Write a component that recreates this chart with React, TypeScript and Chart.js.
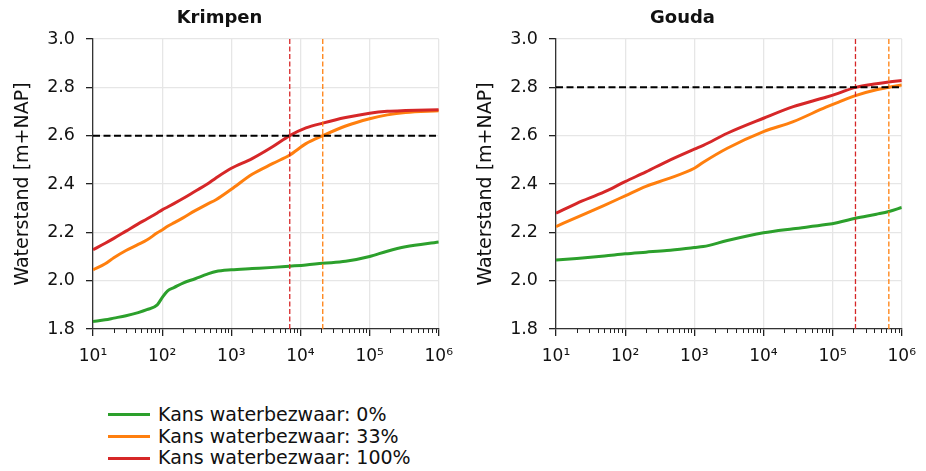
import React, { useEffect, useRef } from "react";
import { Chart, registerables } from "chart.js";

Chart.register(...registerables);

// ---- data -------------------------------------------------------------
// Return period (years) on the x axis, water level [m+NAP] on the y axis.
const KRIMPEN_T = [10, 15, 20, 30, 45, 60, 85, 100, 120, 150, 200, 300, 450, 600, 1000, 2000, 4000, 7000, 12000, 21000, 45000, 100000, 180000, 330000, 1000000];
const KRIMPEN_0 = [1.831, 1.838, 1.845, 1.855, 1.868, 1.88, 1.9, 1.93, 1.958, 1.972, 1.99, 2.008, 2.027, 2.038, 2.045, 2.05, 2.055, 2.06, 2.065, 2.072, 2.08, 2.1, 2.122, 2.14, 2.16];
const KRIMPEN_33 = [2.045, 2.07, 2.095, 2.125, 2.15, 2.168, 2.198, 2.21, 2.225, 2.24, 2.26, 2.29, 2.317, 2.335, 2.378, 2.44, 2.485, 2.52, 2.567, 2.6, 2.64, 2.67, 2.686, 2.696, 2.703];
const KRIMPEN_100 = [2.128, 2.155, 2.175, 2.205, 2.235, 2.255, 2.28, 2.293, 2.305, 2.32, 2.34, 2.37, 2.4, 2.425, 2.465, 2.505, 2.555, 2.6, 2.632, 2.652, 2.675, 2.693, 2.701, 2.704, 2.707];

const GOUDA_T = [10, 20, 50, 100, 200, 400, 1000, 1350, 3000, 10000, 27000, 80000, 120000, 214000, 430000, 650000, 1000000];
const GOUDA_0 = [2.086, 2.092, 2.102, 2.111, 2.118, 2.125, 2.137, 2.141, 2.166, 2.198, 2.215, 2.232, 2.241, 2.258, 2.275, 2.286, 2.303];
const GOUDA_33 = [2.224, 2.262, 2.312, 2.351, 2.39, 2.42, 2.465, 2.49, 2.548, 2.617, 2.658, 2.718, 2.738, 2.766, 2.79, 2.8, 2.81];
const GOUDA_100 = [2.279, 2.32, 2.367, 2.41, 2.45, 2.493, 2.544, 2.56, 2.61, 2.672, 2.72, 2.759, 2.775, 2.8, 2.815, 2.822, 2.828];

// Design level and the return periods where the 100% / 33% curves reach it.
const KRIMPEN_LEVEL = 2.6;
const KRIMPEN_CROSS = [7000, 21000];
const GOUDA_LEVEL = 2.8;
const GOUDA_CROSS = [214000, 650000];

const SERIES_LABELS = ["Kans waterbezwaar: 0%", "Kans waterbezwaar: 33%", "Kans waterbezwaar: 100%"];
const SERIES_COLORS = ["#2ca02c", "#ff7f0e", "#d62728"];

const X_DECADES = [1, 2, 3, 4, 5, 6];
const Y_MIN = 1.8;
const Y_MAX = 3.0;
const Y_STEP = 0.2;

const FONT = "'DejaVu Sans', Verdana, sans-serif";
const SUP = ["⁰", "¹", "²", "³", "⁴", "⁵", "⁶", "⁷", "⁸", "⁹"];

const isDecade = (v: number) => Math.abs(Math.log10(v) - Math.round(Math.log10(v))) < 1e-9;

// all log ticks: 1..9 x 10^n inside the axis range
const logTicks = () => {
  const out: number[] = [];
  const lo = X_DECADES[0];
  const hi = X_DECADES[X_DECADES.length - 1];
  for (let e = lo; e <= hi; e++) {
    for (let m = 1; m <= 9; m++) {
      if (e === hi && m > 1) break;
      out.push(m * Math.pow(10, e));
    }
  }
  return out;
};

// short tick marks for the minor log ticks
const minorTicksPlugin = {
  id: "minorTicks",
  afterDatasetsDraw(chart: any) {
    const xs = chart.scales.x;
    const { ctx, chartArea } = chart;
    ctx.save();
    ctx.strokeStyle = "#222";
    ctx.lineWidth = 1;
    for (const v of logTicks()) {
      if (isDecade(v)) continue;
      const px = Math.round(xs.getPixelForValue(v)) + 0.5;
      ctx.beginPath();
      ctx.moveTo(px, chartArea.bottom);
      ctx.lineTo(px, chartArea.bottom + 4);
      ctx.stroke();
    }
    ctx.restore();
  },
};

function makeConfig(title: string, t: number[], s0: number[], s33: number[], s100: number[], level: number, cross: number[]) {
  const xMin = Math.pow(10, X_DECADES[0]);
  const xMax = Math.pow(10, X_DECADES[X_DECADES.length - 1]);
  const pts = (ys: number[]) => t.map((x, i) => ({ x, y: ys[i] }));
  const series = [s0, s33, s100].map((ys, i) => ({
    label: SERIES_LABELS[i],
    data: pts(ys),
    borderColor: SERIES_COLORS[i],
    backgroundColor: SERIES_COLORS[i],
    borderWidth: 3,
    pointRadius: 0,
    cubicInterpolationMode: "monotone" as const,
    order: 3 - i,
  }));
  const guides = [
    {
      label: "level",
      data: [{ x: xMin, y: level }, { x: xMax, y: level }],
      borderColor: "#000",
      borderWidth: 2,
      borderDash: [7, 3.5],
      pointRadius: 0,
      order: 0,
    },
    {
      label: "cross100",
      data: [{ x: cross[0], y: Y_MIN }, { x: cross[0], y: Y_MAX }],
      borderColor: SERIES_COLORS[2],
      borderWidth: 1.3,
      borderDash: [5, 2.5],
      pointRadius: 0,
      order: 0,
    },
    {
      label: "cross33",
      data: [{ x: cross[1], y: Y_MIN }, { x: cross[1], y: Y_MAX }],
      borderColor: SERIES_COLORS[1],
      borderWidth: 1.3,
      borderDash: [5, 2.5],
      pointRadius: 0,
      order: 0,
    },
  ];
  return {
    type: "line" as const,
    data: { datasets: [...series, ...guides] },
    plugins: [minorTicksPlugin],
    options: {
      responsive: false,
      animation: false as const,
      events: [],
      layout: { padding: { left: 0, right: 24, top: 0, bottom: 0 } },
      plugins: {
        legend: { display: false },
        tooltip: { enabled: false },
        title: {
          display: true,
          text: title,
          color: "#111",
          font: { family: FONT, size: 18, weight: "bold" as const },
          padding: { top: 8, bottom: 9.4 },
        },
      },
      scales: {
        x: {
          type: "logarithmic" as const,
          min: xMin,
          max: xMax,
          afterBuildTicks: (scale: any) => {
            scale.ticks = logTicks().map((v) => ({ value: v, major: isDecade(v) }));
          },
          afterFit: (scale: any) => {
            scale.height = 71;
          },
          border: { display: true, color: "#333", width: 1.3 },
          grid: {
            color: (ctx: any) => (ctx.tick && isDecade(ctx.tick.value) ? "#e6e6e6" : "rgba(0,0,0,0)"),
            lineWidth: 1.3,
            tickColor: (ctx: any) => (ctx.tick && isDecade(ctx.tick.value) ? "#222" : "rgba(0,0,0,0)"),
            tickLength: 7,
            drawTicks: true,
          },
          ticks: {
            autoSkip: false,
            maxRotation: 0,
            minRotation: 0,
            padding: 10,
            color: "#111",
            font: { family: FONT, size: 17 },
            callback: (v: any) => {
              const n = Number(v);
              if (!isDecade(n)) return "";
              return "10" + SUP[Math.round(Math.log10(n))];
            },
          },
        },
        y: {
          min: Y_MIN,
          max: Y_MAX,
          afterFit: (scale: any) => {
            scale.width = 93;
          },
          border: { display: true, color: "#333", width: 1.3 },
          grid: {
            color: "#e6e6e6",
            lineWidth: 1.3,
            tickColor: "#222",
            tickLength: 7,
          },
          ticks: {
            stepSize: Y_STEP,
            padding: 11,
            color: "#111",
            font: { family: FONT, size: 17.5 },
            callback: (v: any) => Number(v).toFixed(1),
          },
          title: {
            display: true,
            text: "Waterstand [m+NAP]",
            color: "#111",
            font: { family: FONT, size: 19 },
            padding: { top: 12, bottom: 0 },
          },
        },
      },
    },
  };
}

function Panel(props: { left: number; config: any }) {
  const ref = useRef<HTMLCanvasElement | null>(null);
  useEffect(() => {
    if (!ref.current) return;
    const chart = new Chart(ref.current, props.config);
    return () => chart.destroy();
  }, []);
  return (
    <canvas
      ref={ref}
      width={463}
      height={400}
      style={{ position: "absolute", left: props.left, top: 0, width: 463, height: 400 }}
    />
  );
}

export default function App() {
  const krimpen = makeConfig("Krimpen", KRIMPEN_T, KRIMPEN_0, KRIMPEN_33, KRIMPEN_100, KRIMPEN_LEVEL, KRIMPEN_CROSS);
  const gouda = makeConfig("Gouda", GOUDA_T, GOUDA_0, GOUDA_33, GOUDA_100, GOUDA_LEVEL, GOUDA_CROSS);
  return (
    <div style={{ position: "fixed", left: 0, top: 0, width: 926, height: 471, background: "#fff", overflow: "hidden" }}>
      <Panel left={0} config={krimpen} />
      <Panel left={463} config={gouda} />
      <div style={{ position: "absolute", left: 108, top: 404, fontFamily: FONT, fontSize: 19, color: "#111", lineHeight: "21.7px" }}>
        {SERIES_LABELS.map((label, i) => (
          <div key={label} style={{ display: "flex", alignItems: "center", whiteSpace: "nowrap" }}>
            <span style={{ display: "inline-block", width: 42, height: 3, background: SERIES_COLORS[i], marginRight: 8 }} />
            <span>{label}</span>
          </div>
        ))}
      </div>
    </div>
  );
}
